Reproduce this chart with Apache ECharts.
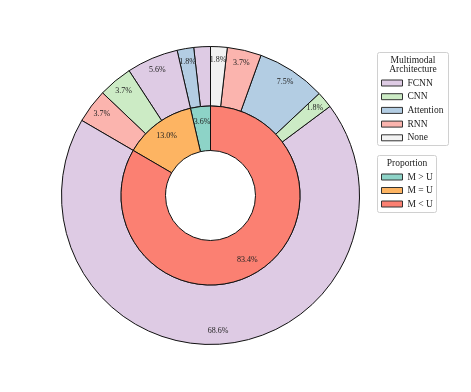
<!DOCTYPE html>
<html>
	<head>
		<meta charset="UTF-8">
		<title>Multimodal Architecture</title>
		<script src="https://cdn.jsdelivr.net/npm/echarts@6/dist/echarts.min.js"></script>
		<style>
			html, body { margin: 0; padding: 0; background: #fff; }
			#main { width: 471px; height: 392px; }
		</style>
	</head>
	<body>
		<div id="main"></div>
		<script type="text/javascript">
			// 内圈：比例
			var innerNames = ['M > U', 'M = U', 'M < U'];
			var innerValues = [3.6, 13.0, 83.4];
			var innerColors = ['#8dd3c7', '#fdb462', '#fb8072'];

			// 外圈：架构（按内圈顺序逆时针）
			var outerNames = ['FCNN', 'Attention', 'FCNN', 'CNN', 'RNN', 'FCNN', 'CNN', 'Attention', 'RNN', 'None'];
			var outerValues = [1.8, 1.8, 5.6, 3.7, 3.7, 68.6, 1.8, 7.5, 3.7, 1.8];

			var archNames = ['FCNN', 'CNN', 'Attention', 'RNN', 'None'];
			var archColors = {
				'FCNN': '#decbe4',
				'CNN': '#ccebc5',
				'Attention': '#b3cde3',
				'RNN': '#fbb4ae',
				'None': '#f2f2f2'
			};

			var font = 'Liberation Serif';
			var cx = 210.5, cy = 195.5;

			var outerData = outerNames.map(function(n, i) {
				return { name: n, value: outerValues[i], itemStyle: { color: archColors[n] } };
			});
			var innerData = innerNames.map(function(n, i) {
				return { name: n, value: innerValues[i], itemStyle: { color: innerColors[i] } };
			});

			// 仅用于放置百分比文字的透明圈
			function labelData(values) {
				return values.map(function(v, i) {
					return { name: v.toFixed(1) + '%', value: v };
				});
			}

			var ringBase = {
				type: 'pie',
				center: [cx, cy],
				startAngle: 90,
				clockwise: false,
				avoidLabelOverlap: false,
				label: { show: false },
				labelLine: { show: false },
				emphasis: { disabled: true },
				itemStyle: { borderColor: '#111', borderWidth: 1 }
			};

			var labelBase = {
				type: 'pie',
				center: [cx, cy],
				startAngle: 90,
				clockwise: false,
				silent: true,
				avoidLabelOverlap: false,
				itemStyle: { color: 'rgba(0,0,0,0)', borderWidth: 0 },
				label: {
					show: true,
					position: 'inside',
					formatter: '{b}',
					fontFamily: font,
					fontSize: 8,
					color: '#222'
				},
				labelLine: { show: false },
				emphasis: { disabled: true }
			};

			var myChart = echarts.init(document.getElementById('main'));

			var option = {
				backgroundColor: '#fff',
				animation: false,
				graphic: [
					{ type: 'rect', shape: { x: 377.5, y: 52.5, width: 71, height: 93, r: 2 }, style: { fill: '#fff', stroke: '#d0d0d0', lineWidth: 1 }, z: 0 },
					{ type: 'text', x: 413, y: 60, style: { text: 'Multimodal', font: '9.5px "Liberation Serif"', fill: '#222', align: 'center', verticalAlign: 'middle' }, z: 1 },
					{ type: 'text', x: 413, y: 69.5, style: { text: 'Architecture', font: '9.5px "Liberation Serif"', fill: '#222', align: 'center', verticalAlign: 'middle' }, z: 1 },
					{ type: 'rect', shape: { x: 377.5, y: 155.5, width: 59, height: 57, r: 2 }, style: { fill: '#fff', stroke: '#d0d0d0', lineWidth: 1 }, z: 0 },
					{ type: 'text', x: 407, y: 163, style: { text: 'Proportion', font: '9.5px "Liberation Serif"', fill: '#222', align: 'center', verticalAlign: 'middle' }, z: 1 }
				],
				legend: [{
					data: archNames,
					orient: 'vertical',
					left: 381,
					top: 78,
					padding: 0,
					icon: 'rect',
					itemWidth: 21,
					itemHeight: 6,
					itemGap: 3.7,
					selectedMode: false,
					itemStyle: { borderColor: '#333', borderWidth: 1 },
					textStyle: { fontFamily: font, fontSize: 9.5, lineHeight: 10, color: '#222' }
				}, {
					data: innerNames,
					orient: 'vertical',
					left: 381,
					top: 172,
					padding: 0,
					icon: 'rect',
					itemWidth: 21,
					itemHeight: 6,
					itemGap: 3.5,
					selectedMode: false,
					itemStyle: { borderColor: '#333', borderWidth: 1 },
					textStyle: { fontFamily: font, fontSize: 9.5, lineHeight: 10, color: '#222' }
				}],
				series: [
					Object.assign({}, ringBase, { name: 'arch', radius: [89.5, 149], data: outerData }),
					Object.assign({}, ringBase, { name: 'prop', radius: [45, 89.5], data: innerData }),
					Object.assign({}, labelBase, { name: 'archLabel', radius: [126, 140], data: labelData(outerValues) }),
					Object.assign({}, labelBase, { name: 'propLabel', radius: [64, 78], data: labelData(innerValues) })
				]
			};
			myChart.setOption(option);
		</script>
	</body>
</html>
